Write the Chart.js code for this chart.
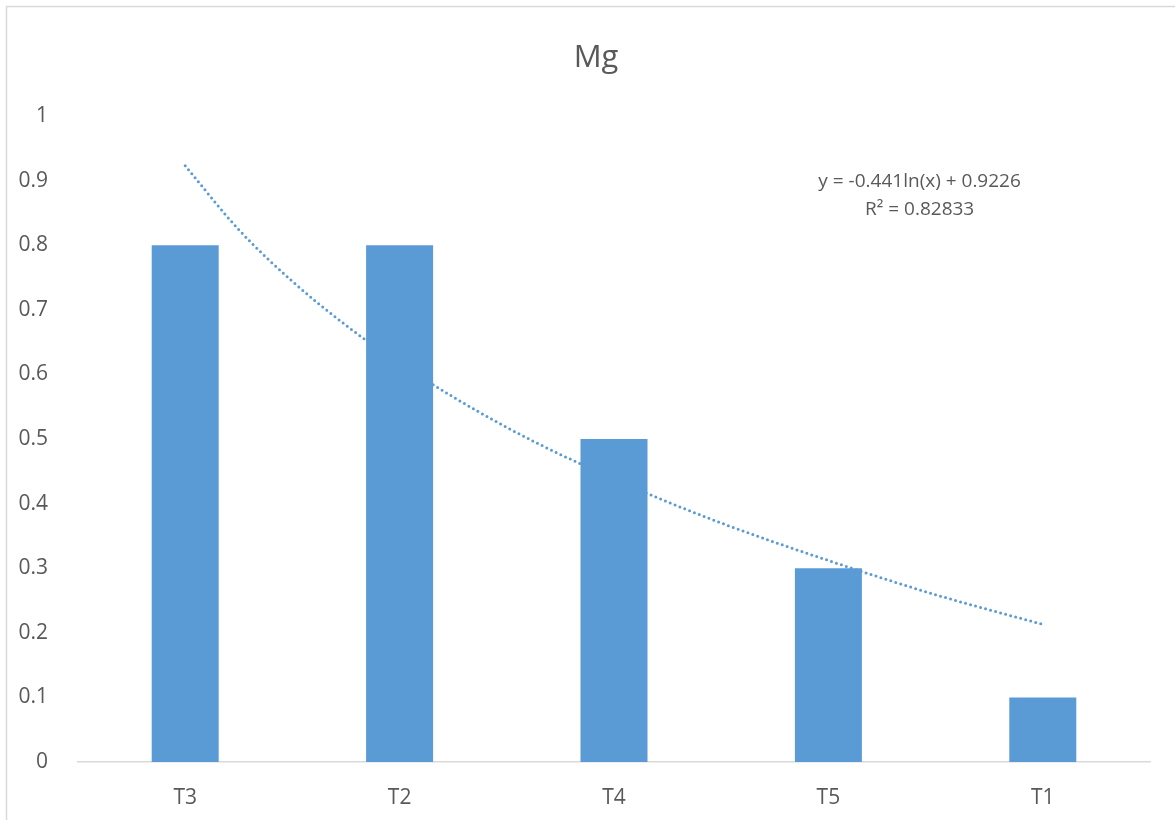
<!DOCTYPE html>
<html>
<head>
<meta charset="utf-8">
<script src="https://cdn.jsdelivr.net/npm/chart.js@4/dist/chart.umd.min.js"></script>
<style>
html,body{margin:0;padding:0;background:#fff;}
#wrap{width:1175px;height:820px;position:relative;}
</style>
</head>
<body>
<div id="wrap"><canvas id="c" width="1175" height="820"></canvas></div>
<script>
const categories = ['T3', 'T2', 'T4', 'T5', 'T1'];
const mgValues = [0.8, 0.8, 0.5, 0.3, 0.1];
// Dotted trendline (position in category units, value)
const trendX = [0, 0.25, 0.5, 0.75, 1, 1.5, 2, 2.5, 3, 3.5, 4];
const trendY = [0.923, 0.824, 0.744, 0.676, 0.617, 0.518, 0.438, 0.370, 0.312, 0.259, 0.213];
const titleText = 'Mg';
const equationLines = ['y = -0.441ln(x) + 0.9226', 'R\u00B2 = 0.82833'];
const yTicks = { min: 0, max: 1, step: 0.1 };

const FONT = "'Open Sans', 'Noto Sans', sans-serif";
const BLUE = '#5b9bd5';
const TEXT = '#595959';

const framePlugin = {
  id: 'frame',
  beforeDraw(chart) {
    const ctx = chart.ctx;
    ctx.save();
    ctx.fillStyle = '#ffffff';
    ctx.fillRect(0, 0, chart.width, chart.height);
    ctx.strokeStyle = '#d9d9d9';
    ctx.lineWidth = 1.5;
    ctx.strokeRect(6.5, 6.5, chart.width + 10, chart.height + 10);
    ctx.fillStyle = TEXT;
    ctx.font = '31px ' + FONT;
    ctx.textAlign = 'center';
    ctx.textBaseline = 'middle';
    ctx.fillText(titleText, 596, 58);
    ctx.restore();
  }
};

const equationPlugin = {
  id: 'equation',
  afterDraw(chart) {
    const ctx = chart.ctx;
    const xs = chart.scales.x, ys = chart.scales.y;
    const cx = xs.getPixelForValue(3.5) - 16;
    ctx.save();
    ctx.fillStyle = TEXT;
    ctx.font = '19px ' + FONT;
    ctx.textAlign = 'center';
    ctx.textBaseline = 'middle';
    ctx.fillText(equationLines[0], cx, ys.getPixelForValue(0.899));
    ctx.fillText(equationLines[1], cx, ys.getPixelForValue(0.855));
    ctx.restore();
  }
};

new Chart(document.getElementById('c'), {
  type: 'bar',
  data: {
    datasets: [
      {
        type: 'bar',
        label: titleText,
        data: mgValues.map((v, i) => ({ x: i, y: v })),
        backgroundColor: BLUE,
        borderWidth: 0,
        grouped: false,
        categoryPercentage: 1,
        barPercentage: 0.3125,
        order: 0
      },
      {
        type: 'line',
        label: 'Trend',
        data: trendX.map((v, i) => ({ x: v, y: trendY[i] })),
        borderColor: BLUE,
        borderWidth: 3,
        borderDash: [0, 5.2],
        borderCapStyle: 'round',
        pointRadius: 0,
        fill: false,
        cubicInterpolationMode: 'monotone',
        order: 1
      }
    ]
  },
  options: {
    responsive: false,
    animation: false,
    layout: { padding: { left: 0, right: 25, top: 116, bottom: 0 } },
    plugins: {
      legend: { display: false },
      tooltip: { enabled: false },
      title: { display: false }
    },
    scales: {
      x: {
        type: 'linear',
        offset: false,
        min: -0.5,
        max: 4.5,
        grid: { display: false },
        border: { display: true, color: '#d9d9d9', width: 1.5 },
        afterBuildTicks(s) { s.ticks = categories.map((_, i) => ({ value: i })); },
        ticks: {
          autoSkip: false,
          maxRotation: 0,
          color: TEXT,
          font: { family: FONT, size: 21 },
          padding: 15,
          callback: v => categories[Math.round(v)] ?? ''
        },
        afterFit(s) { s.height = 58; }
      },
      y: {
        min: yTicks.min,
        max: yTicks.max,
        grid: { display: false },
        border: { display: false },
        ticks: {
          stepSize: yTicks.step,
          color: TEXT,
          font: { family: FONT, size: 21 },
          padding: 22,
          callback: v => String(Math.round(v * 10) / 10)
        },
        afterFit(s) { s.width = 78; }
      }
    }
  },
  plugins: [framePlugin, equationPlugin]
});
</script>
</body>
</html>
